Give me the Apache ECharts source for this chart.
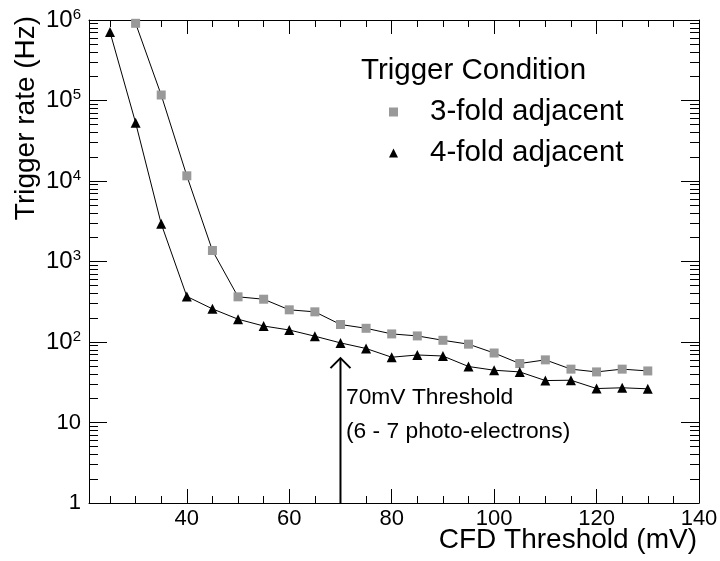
<!DOCTYPE html>
<html>
<head>
<meta charset="utf-8">
<script src="https://cdn.jsdelivr.net/npm/echarts@6/dist/echarts.min.js"></script>
<style>
html,body{margin:0;padding:0;background:#fff;}
#chart{width:720px;height:561px;}
</style>
</head>
<body>
<div id="chart"></div>
<script>
// ---- data ----
const threshold3 = [30,35,40,45,50,55,60,65,70,75,80,85,90,95,100,105,110,115,120,125,130];
const rate3fold  = [910000,117000,11600,1370,364,340,251,237,165,148,126,119,105,94,73,54,60,46,42.5,46,43.7];

const threshold4 = [25,30,35,40,45,50,55,60,65,70,75,80,85,90,95,100,105,110,115,120,125,130];
const rate4fold  = [710000,53000,2940,368,258,192,158,141,118,97.5,83,64.7,69,67,49.6,44.6,42.5,33.2,33.5,26.4,27,26.2];

// arrow marking the chosen threshold: [x, from rate, to rate]
const arrowMark = [[70, 1, 63]];

// axis ticks
const xMajorTicks = [40,60,80,100,120,140];
const xMinorTicks = [25,30,35,45,50,55,65,70,75,85,90,95,105,110,115,125,130,135];
const yMajorTicks = [1,10,100,1000,10000,100000,1000000];
const yMinorTicks = [2,3,4,5,6,7,8,9,
  20,30,40,50,60,70,80,90,
  200,300,400,500,600,700,800,900,
  2000,3000,4000,5000,6000,7000,8000,9000,
  20000,30000,40000,50000,60000,70000,80000,90000,
  200000,300000,400000,500000,600000,700000,800000,900000];

const seriesNames = ['3-fold adjacent','4-fold adjacent'];
const legendTitle = 'Trigger Condition';
const xTitle = 'CFD Threshold (mV)';
const yTitle = 'Trigger rate (Hz)';
const annotationText = '70mV Threshold\n(6 - 7 photo-electrons)';

// ---- chart ----
const FONT = '"Liberation Sans", Arial, Helvetica, sans-serif';
const X_MIN = 20.9, X_MAX = 140;
const chart = echarts.init(document.getElementById('chart'), null, {renderer: 'canvas'});

function xAx(pos, ticks, len, showLine, showLabels) {
  return {
    type: 'value', position: pos, min: X_MIN, max: X_MAX, gridIndex: 0,
    splitLine: {show: false},
    axisLine: {show: showLine, onZero: false, lineStyle: {color: '#000', width: 1}},
    axisTick: {show: true, inside: true, length: len, customValues: ticks, lineStyle: {color: '#000', width: 1}},
    axisLabel: showLabels ? {show: true, customValues: ticks, fontSize: 22, color: '#000', fontFamily: FONT, margin: 5} : {show: false}
  };
}
function yAx(pos, ticks, len, showLine, showLabels) {
  return {
    type: 'log', logBase: 10, position: pos, min: 1, max: 1000000, gridIndex: 0,
    splitLine: {show: false},
    axisLine: {show: showLine, onZero: false, lineStyle: {color: '#000', width: 1}},
    axisTick: {show: true, inside: true, length: len, customValues: ticks, lineStyle: {color: '#000', width: 1}},
    axisLabel: showLabels ? {
      show: true, customValues: ticks, color: '#000', fontSize: 22, fontFamily: FONT, margin: 8,
      formatter: function (v) {
        const e = Math.round(Math.log10(v));
        if (e === 0) return '1';
        if (e === 1) return '10';
        return '{b|10}{s|' + e + '}';
      },
      rich: {
        b: {fontSize: 24, color: '#000', fontFamily: FONT, lineHeight: 26},
        s: {fontSize: 15, color: '#000', fontFamily: FONT, lineHeight: 15, verticalAlign: 'top'}
      }
    } : {show: false}
  };
}

const option = {
  backgroundColor: '#fff',
  animation: false,
  textStyle: {fontFamily: FONT},
  grid: {left: 89, right: 21, top: 20, bottom: 58, containLabel: false, outerBoundsMode: 'none'},
  title: {
    text: legendTitle, left: 361, top: 56, padding: 0,
    textStyle: {fontSize: 29.5, fontWeight: 'normal', color: '#000', fontFamily: FONT, lineHeight: 29}
  },
  legend: {
    orient: 'vertical', left: 389, top: 97, padding: 0,
    itemWidth: 9, itemHeight: 9, itemGap: 11, selectedMode: false,
    data: [{name: seriesNames[0], icon: 'rect'}, {name: seriesNames[1], icon: 'triangle'}],
    textStyle: {fontSize: 29.5, color: '#000', fontFamily: FONT, lineHeight: 29, padding: [0, 0, 0, 27]}
  },
  xAxis: [
    xAx('bottom', xMajorTicks, 14, true, true),
    xAx('bottom', xMinorTicks, 7, false, false),
    xAx('top', xMajorTicks, 14, true, false),
    xAx('top', xMinorTicks, 7, false, false)
  ],
  yAxis: [
    yAx('left', yMajorTicks, 18, true, true),
    yAx('left', yMinorTicks, 9, false, false),
    yAx('right', yMajorTicks, 18, true, false),
    yAx('right', yMinorTicks, 9, false, false)
  ],
  graphic: [
    {
      type: 'text', left: 346, top: 381, silent: true,
      style: {text: annotationText, fontSize: 22.8, fontFamily: FONT, lineHeight: 33.5, fill: '#000'}
    },
    {
      type: 'text', right: 23, top: 526, silent: true,
      style: {text: xTitle, fontSize: 28, fontFamily: FONT, fill: '#000'}
    },
    {
      type: 'text', x: 26, y: 118, rotation: Math.PI / 2, silent: true,
      style: {text: yTitle, fontSize: 28, fontFamily: FONT, fill: '#000', align: 'center', verticalAlign: 'middle'}
    }
  ],
  series: [
    {
      name: seriesNames[0], type: 'line', xAxisIndex: 0, yAxisIndex: 0,
      data: threshold3.map((x, i) => [x, rate3fold[i]]),
      symbol: 'rect', symbolSize: 9, showAllSymbol: true,
      itemStyle: {color: '#999999'},
      lineStyle: {color: '#000', width: 1}, z: 3
    },
    {
      name: seriesNames[1], type: 'line', xAxisIndex: 0, yAxisIndex: 0,
      data: threshold4.map((x, i) => [x, rate4fold[i]]),
      symbol: 'triangle', symbolSize: 10, showAllSymbol: true,
      itemStyle: {color: '#000'},
      lineStyle: {color: '#000', width: 1}, z: 3
    },
    {
      type: 'custom', xAxisIndex: 0, yAxisIndex: 0, silent: true, z: 2,
      data: arrowMark,
      encode: {x: 0, y: [1, 2]},
      renderItem: function (params, api) {
        const p0 = api.coord([api.value(0), api.value(1)]);
        const p1 = api.coord([api.value(0), api.value(2)]);
        return {
          type: 'group',
          children: [
            {type: 'line', shape: {x1: p0[0], y1: p0[1], x2: p1[0], y2: p1[1]}, style: {stroke: '#000', lineWidth: 2}},
            {type: 'polyline', shape: {points: [[p1[0] - 10, p1[1] + 10], [p1[0], p1[1]], [p1[0] + 10, p1[1] + 10]]},
             style: {stroke: '#000', lineWidth: 2, fill: null}}
          ]
        };
      }
    }
  ]
};
chart.setOption(option);
</script>
</body>
</html>
